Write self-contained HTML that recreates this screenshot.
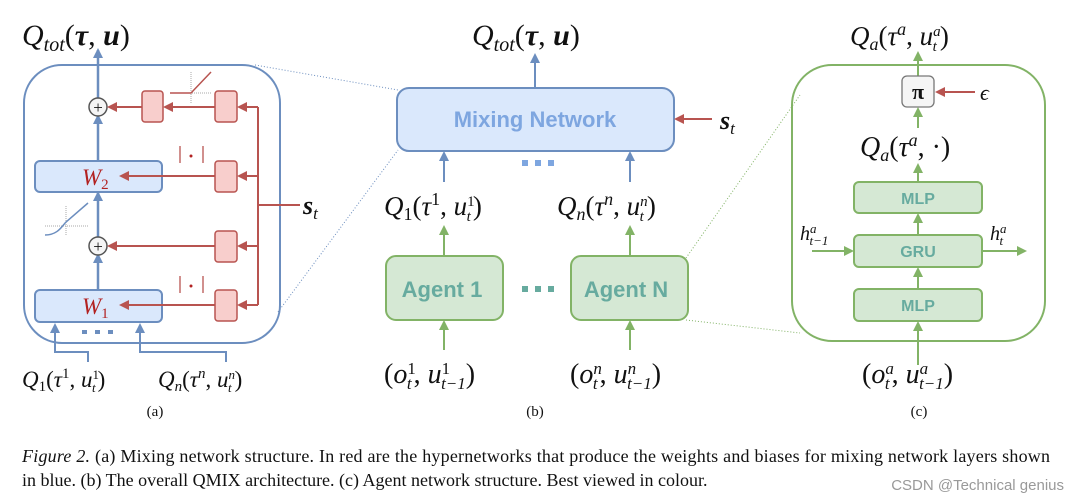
<!DOCTYPE html>
<html><head><meta charset="utf-8"><style>
html,body{margin:0;padding:0;background:#fff;width:1069px;height:500px;overflow:hidden}
svg{display:block}
.m{font-family:"Liberation Serif",serif;font-style:italic;fill:#111}
.r{font-family:"Liberation Serif",serif;fill:#111}
.sans{font-family:"Liberation Sans",sans-serif;font-weight:bold}
</style></head><body>
<svg width="1069" height="500" viewBox="0 0 1069 500" xmlns="http://www.w3.org/2000/svg">
<defs>
<marker id="ab" markerWidth="10" markerHeight="10" refX="8" refY="5" orient="auto" markerUnits="userSpaceOnUse"><path d="M0,0 L10,5 L0,10 z" fill="#6c8ebf"/></marker>
<marker id="ar" markerWidth="10" markerHeight="10" refX="8" refY="5" orient="auto" markerUnits="userSpaceOnUse"><path d="M0,0 L10,5 L0,10 z" fill="#b85450"/></marker>
<marker id="ag" markerWidth="10" markerHeight="10" refX="8" refY="5" orient="auto" markerUnits="userSpaceOnUse"><path d="M0,0 L10,5 L0,10 z" fill="#82b366"/></marker>
</defs>

<g stroke-dasharray="1,2" stroke-width="1" fill="none">
<line x1="255" y1="65" x2="398" y2="90" stroke="#6c8ebf"/>
<line x1="278" y1="312" x2="398" y2="150" stroke="#6c8ebf"/>
<line x1="686" y1="258" x2="800" y2="95" stroke="#82b366"/>
<line x1="686" y1="320" x2="800" y2="333" stroke="#82b366"/>
</g>

<!-- PANEL A -->
<text x="22" y="45" class="m" font-size="30">Q<tspan font-size="20" dy="6">tot</tspan><tspan dy="-6" font-style="normal">(</tspan><tspan font-weight="bold">τ</tspan><tspan font-style="normal">, </tspan><tspan font-weight="bold">u</tspan><tspan font-style="normal">)</tspan></text>
<rect x="24" y="65" width="256" height="278" rx="38" fill="none" stroke="#6c8ebf" stroke-width="2"/>
<line x1="98" y1="290" x2="98" y2="255" stroke="#6c8ebf" stroke-width="2.5" marker-end="url(#ab)"/>
<line x1="98" y1="237" x2="98" y2="193" stroke="#6c8ebf" stroke-width="2.5" marker-end="url(#ab)"/>
<line x1="98" y1="160" x2="98" y2="116" stroke="#6c8ebf" stroke-width="2.5" marker-end="url(#ab)"/>
<line x1="98" y1="98" x2="98" y2="50" stroke="#6c8ebf" stroke-width="2.5" marker-end="url(#ab)"/>
<rect x="35" y="161" width="127" height="31" rx="5" fill="#dae8fc" stroke="#6c8ebf" stroke-width="2"/>
<rect x="35" y="290" width="127" height="32" rx="5" fill="#dae8fc" stroke="#6c8ebf" stroke-width="2"/>
<text x="82" y="185" class="m" font-size="23" style="fill:#b22222">W<tspan font-style="normal" font-size="15" dy="4">2</tspan></text>
<text x="82" y="314" class="m" font-size="23" style="fill:#b22222">W<tspan font-style="normal" font-size="15" dy="4">1</tspan></text>
<circle cx="98" cy="107" r="9" fill="#f5f5f5" stroke="#555" stroke-width="1.5"/>
<text x="98" y="113" text-anchor="middle" class="r" font-size="17">+</text>
<circle cx="98" cy="246" r="9" fill="#f5f5f5" stroke="#555" stroke-width="1.5"/>
<text x="98" y="252" text-anchor="middle" class="r" font-size="17">+</text>
<g fill="#f8cecc" stroke="#b85450" stroke-width="1.5">
<rect x="142" y="91" width="21" height="31" rx="3"/>
<rect x="215" y="91" width="22" height="31" rx="3"/>
<rect x="215" y="161" width="22" height="31" rx="3"/>
<rect x="215" y="231" width="22" height="31" rx="3"/>
<rect x="215" y="290" width="22" height="31" rx="3"/>
</g>
<g stroke="#b85450" stroke-width="2" fill="none">
<line x1="258" y1="107" x2="258" y2="305"/>
<line x1="258" y1="205" x2="300" y2="205"/>
<line x1="258" y1="107" x2="239" y2="107" marker-end="url(#ar)"/>
<line x1="258" y1="176" x2="239" y2="176" marker-end="url(#ar)"/>
<line x1="258" y1="246" x2="239" y2="246" marker-end="url(#ar)"/>
<line x1="258" y1="305" x2="239" y2="305" marker-end="url(#ar)"/>
<line x1="215" y1="107" x2="165" y2="107" marker-end="url(#ar)"/>
<line x1="142" y1="107" x2="109" y2="107" marker-end="url(#ar)"/>
<line x1="215" y1="176" x2="121" y2="176" marker-end="url(#ar)"/>
<line x1="215" y1="246" x2="109" y2="246" marker-end="url(#ar)"/>
<line x1="215" y1="305" x2="121" y2="305" marker-end="url(#ar)"/>
</g>
<text x="303" y="214" class="m" font-size="26" font-weight="bold">s<tspan font-size="17" dy="5" font-weight="normal">t</tspan></text>
<g stroke="#b85450" stroke-width="1.3"><line x1="180" y1="146" x2="180" y2="163"/><line x1="203" y1="146" x2="203" y2="163"/><line x1="180" y1="276" x2="180" y2="293"/><line x1="203" y1="276" x2="203" y2="293"/></g>
<circle cx="191" cy="156" r="1.5" fill="#b22222"/><circle cx="191" cy="286" r="1.5" fill="#b22222"/>
<line x1="170" y1="93" x2="212" y2="93" stroke="#aaa" stroke-dasharray="1,1"/>
<line x1="191" y1="72" x2="191" y2="104" stroke="#aaa" stroke-dasharray="1,1"/>
<polyline points="170,93 191,93 211,72" fill="none" stroke="#b85450" stroke-width="1.5"/>
<line x1="45" y1="226" x2="88" y2="226" stroke="#aaa" stroke-dasharray="1,1"/>
<line x1="66" y1="206" x2="66" y2="236" stroke="#aaa" stroke-dasharray="1,1"/>
<path d="M45,235 C58,235 62,226 66,222 L88,203" fill="none" stroke="#6c8ebf" stroke-width="1.5"/>
<polyline points="88,362 88,352 55,352 55,325" fill="none" stroke="#6c8ebf" stroke-width="2" marker-end="url(#ab)"/>
<polyline points="226,362 226,352 140,352 140,325" fill="none" stroke="#6c8ebf" stroke-width="2" marker-end="url(#ab)"/>
<g fill="#6c8ebf"><rect x="82" y="330" width="5" height="4"/><rect x="95" y="330" width="5" height="4"/><rect x="108" y="330" width="5" height="4"/></g>
<text x="22" y="387" class="m" font-size="23">Q<tspan font-style="normal" font-size="15" dy="4">1</tspan><tspan font-style="normal" dy="-4">(</tspan>τ<tspan font-style="normal" font-size="15" dy="-9">1</tspan><tspan font-style="normal" dy="9">, </tspan>u<tspan font-size="13" dy="-8" font-style="normal">1</tspan><tspan font-size="13" dx="-7" dy="13">t</tspan><tspan font-style="normal" dx="2" dy="-5">)</tspan></text>
<text x="158" y="387" class="m" font-size="23">Q<tspan font-size="15" dy="4">n</tspan><tspan font-style="normal" dy="-4">(</tspan>τ<tspan font-size="15" dy="-9">n</tspan><tspan font-style="normal" dy="9">, </tspan>u<tspan font-size="13" dy="-8">n</tspan><tspan font-size="13" dx="-7" dy="13">t</tspan><tspan font-style="normal" dx="3" dy="-5">)</tspan></text>
<text x="155" y="416" text-anchor="middle" class="r" font-size="15">(a)</text>

<!-- PANEL B -->
<text x="472" y="45" class="m" font-size="30">Q<tspan font-size="20" dy="6">tot</tspan><tspan dy="-6" font-style="normal">(</tspan><tspan font-weight="bold">τ</tspan><tspan font-style="normal">, </tspan><tspan font-weight="bold">u</tspan><tspan font-style="normal">)</tspan></text>
<line x1="535" y1="88" x2="535" y2="55" stroke="#6c8ebf" stroke-width="2" marker-end="url(#ab)"/>
<rect x="397" y="88" width="277" height="63" rx="12" fill="#dae8fc" stroke="#6c8ebf" stroke-width="2"/>
<text x="535" y="127" text-anchor="middle" class="sans" font-size="22" fill="#7ea6e0">Mixing Network</text>
<line x1="712" y1="119" x2="676" y2="119" stroke="#b85450" stroke-width="2" marker-end="url(#ar)"/>
<text x="720" y="129" class="m" font-size="26" font-weight="bold">s<tspan font-size="17" dy="5" font-weight="normal">t</tspan></text>
<line x1="444" y1="182" x2="444" y2="153" stroke="#6c8ebf" stroke-width="2" marker-end="url(#ab)"/>
<line x1="630" y1="182" x2="630" y2="153" stroke="#6c8ebf" stroke-width="2" marker-end="url(#ab)"/>
<g fill="#7ea6e0"><rect x="522" y="160" width="6" height="6"/><rect x="535" y="160" width="6" height="6"/><rect x="548" y="160" width="6" height="6"/></g>
<text x="384" y="215" class="m" font-size="27">Q<tspan font-style="normal" font-size="18" dy="5">1</tspan><tspan font-style="normal" dy="-5">(</tspan>τ<tspan font-style="normal" font-size="18" dy="-10">1</tspan><tspan font-style="normal" dy="10">, </tspan>u<tspan font-size="15" dy="-9" font-style="normal">1</tspan><tspan font-size="15" dx="-8" dy="15">t</tspan><tspan font-style="normal" dx="2" dy="-6">)</tspan></text>
<text x="557" y="215" class="m" font-size="27">Q<tspan font-size="18" dy="5">n</tspan><tspan font-style="normal" dy="-5">(</tspan>τ<tspan font-size="18" dy="-10">n</tspan><tspan font-style="normal" dy="10">, </tspan>u<tspan font-size="15" dy="-9">n</tspan><tspan font-size="15" dx="-8" dy="15">t</tspan><tspan font-style="normal" dx="3" dy="-6">)</tspan></text>
<line x1="444" y1="256" x2="444" y2="227" stroke="#82b366" stroke-width="2" marker-end="url(#ag)"/>
<line x1="630" y1="256" x2="630" y2="227" stroke="#82b366" stroke-width="2" marker-end="url(#ag)"/>
<rect x="386" y="256" width="117" height="64" rx="10" fill="#d5e8d4" stroke="#82b366" stroke-width="2"/>
<rect x="571" y="256" width="117" height="64" rx="10" fill="#d5e8d4" stroke="#82b366" stroke-width="2"/>
<text x="442" y="297" text-anchor="middle" class="sans" font-size="22" fill="#67ab9f">Agent 1</text>
<text x="626" y="297" text-anchor="middle" class="sans" font-size="22" fill="#67ab9f">Agent N</text>
<g fill="#67ab9f"><rect x="522" y="286" width="6" height="6"/><rect x="535" y="286" width="6" height="6"/><rect x="548" y="286" width="6" height="6"/></g>
<line x1="444" y1="350" x2="444" y2="322" stroke="#82b366" stroke-width="2" marker-end="url(#ag)"/>
<line x1="630" y1="350" x2="630" y2="322" stroke="#82b366" stroke-width="2" marker-end="url(#ag)"/>
<text x="384" y="383" class="m" font-size="28"><tspan font-style="normal">(</tspan>o<tspan font-style="normal" font-size="17" dy="-9">1</tspan><tspan font-size="17" dx="-9" dy="15">t</tspan><tspan font-style="normal" dx="2" dy="-6">, </tspan>u<tspan font-style="normal" font-size="17" dy="-9">1</tspan><tspan font-size="17" dx="-9" dy="15">t−1</tspan><tspan font-style="normal" dy="-6">)</tspan></text>
<text x="570" y="383" class="m" font-size="28"><tspan font-style="normal">(</tspan>o<tspan font-size="17" dy="-9">n</tspan><tspan font-size="17" dx="-9" dy="15">t</tspan><tspan font-style="normal" dx="2" dy="-6">, </tspan>u<tspan font-size="17" dy="-9">n</tspan><tspan font-size="17" dx="-9" dy="15">t−1</tspan><tspan font-style="normal" dy="-6">)</tspan></text>
<text x="535" y="416" text-anchor="middle" class="r" font-size="15">(b)</text>

<!-- PANEL C -->
<text x="850" y="45" class="m" font-size="27">Q<tspan font-size="18" dy="5">a</tspan><tspan font-style="normal" dy="-5">(</tspan>τ<tspan font-size="18" dy="-10">a</tspan><tspan font-style="normal" dy="10">, </tspan>u<tspan font-size="15" dy="-9">a</tspan><tspan font-size="15" dx="-8" dy="15">t</tspan><tspan font-style="normal" dx="3" dy="-6">)</tspan></text>
<rect x="792" y="65" width="253" height="276" rx="40" fill="none" stroke="#82b366" stroke-width="2"/>
<line x1="918" y1="76" x2="918" y2="53" stroke="#82b366" stroke-width="2" marker-end="url(#ag)"/>
<rect x="902" y="76" width="32" height="31" rx="5" fill="#f5f5f5" stroke="#777" stroke-width="1.3"/>
<text x="918" y="99" text-anchor="middle" class="r" font-size="22" font-weight="bold">π</text>
<line x1="975" y1="92" x2="937" y2="92" stroke="#b85450" stroke-width="2" marker-end="url(#ar)"/>
<text x="980" y="100" class="m" font-size="22">ϵ</text>
<line x1="918" y1="128" x2="918" y2="109" stroke="#82b366" stroke-width="2" marker-end="url(#ag)"/>
<text x="860" y="156" class="m" font-size="28">Q<tspan font-size="18" dy="5">a</tspan><tspan font-style="normal" dy="-5">(</tspan>τ<tspan font-size="18" dy="-10">a</tspan><tspan font-style="normal" dy="10">, ·)</tspan></text>
<line x1="918" y1="182" x2="918" y2="165" stroke="#82b366" stroke-width="2" marker-end="url(#ag)"/>
<g fill="#d5e8d4" stroke="#82b366" stroke-width="2">
<rect x="854" y="182" width="128" height="31" rx="5"/>
<rect x="854" y="235" width="128" height="32" rx="5"/>
<rect x="854" y="289" width="128" height="32" rx="5"/>
</g>
<g class="sans" font-size="16" fill="#67ab9f" text-anchor="middle">
<text x="918" y="204">MLP</text><text x="918" y="257">GRU</text><text x="918" y="311">MLP</text>
</g>
<line x1="918" y1="235" x2="918" y2="215" stroke="#82b366" stroke-width="2" marker-end="url(#ag)"/>
<line x1="918" y1="289" x2="918" y2="269" stroke="#82b366" stroke-width="2" marker-end="url(#ag)"/>
<line x1="918" y1="365" x2="918" y2="323" stroke="#82b366" stroke-width="2" marker-end="url(#ag)"/>
<line x1="812" y1="251" x2="852" y2="251" stroke="#82b366" stroke-width="2" marker-end="url(#ag)"/>
<line x1="982" y1="251" x2="1025" y2="251" stroke="#82b366" stroke-width="2" marker-end="url(#ag)"/>
<text x="800" y="240" class="m" font-size="20">h<tspan font-size="13" dy="-7">a</tspan><tspan font-size="13" dx="-7" dy="12">t−1</tspan></text>
<text x="990" y="240" class="m" font-size="20">h<tspan font-size="13" dy="-7">a</tspan><tspan font-size="13" dx="-7" dy="12">t</tspan></text>
<text x="862" y="383" class="m" font-size="28"><tspan font-style="normal">(</tspan>o<tspan font-size="17" dy="-9">a</tspan><tspan font-size="17" dx="-9" dy="15">t</tspan><tspan font-style="normal" dx="2" dy="-6">, </tspan>u<tspan font-size="17" dy="-9">a</tspan><tspan font-size="17" dx="-9" dy="15">t−1</tspan><tspan font-style="normal" dy="-6">)</tspan></text>
<text x="919" y="416" text-anchor="middle" class="r" font-size="15">(c)</text>

<text x="22" y="462" class="r" font-size="18" textLength="1028" lengthAdjust="spacing"><tspan font-style="italic">Figure 2.</tspan> (a) Mixing network structure. In red are the hypernetworks that produce the weights and biases for mixing network layers shown</text>
<text x="22" y="486" class="r" font-size="18">in blue. (b) The overall QMIX architecture. (c) Agent network structure. Best viewed in colour.</text>
<text x="1064" y="490" text-anchor="end" font-family="Liberation Sans,sans-serif" font-size="15" fill="#999">CSDN @Technical genius</text>
</svg>
</body></html>
